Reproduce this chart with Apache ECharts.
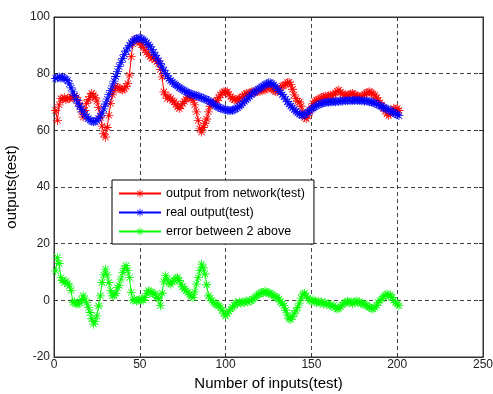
<!DOCTYPE html>
<html>
<head>
<meta charset="utf-8">
<script src="https://cdn.jsdelivr.net/npm/echarts@6/dist/echarts.min.js"></script>
<style>
  html, body { margin: 0; padding: 0; background: #fff; }
  #chart { width: 493px; height: 394px; }
</style>
</head>
<body>
<div id="chart"></div>
<script>
// network output vs real output (test set), x = 1..201
let networkOutput = [
  67, 63.5, 69, 71.2, 71, 71.5, 70.8, 71.3, 71.2, 71.8,
  71.5, 72, 71.6, 70.5, 69, 66.5, 64.7, 67, 69.5, 70.8,
  72, 73, 72.5, 71.5, 70.3, 68, 64.5, 61.5, 58.8, 57.6,
  61, 65.3, 69.5, 72.5, 74, 75.5, 75.2, 74.8, 74.5, 74.2,
  74.6, 75.5, 76.5, 79.5, 86, 90.5, 91.9, 92, 91.5, 91,
  90.2, 89.3, 88.3, 87.5, 86.8, 86, 85.5, 85.6, 85, 84.3,
  83.6, 81.5, 78.9, 73.6, 72.5, 71.2, 71.8, 71.3, 70.5, 70,
  69.2, 68.3, 67.7, 68.6, 69.5, 70.2, 71, 71.5, 71.8, 71.2,
  70.6, 69, 66.5, 63.5, 60.5, 59.4, 61, 62.5, 64, 66.5,
  68.5, 69.3, 69.8, 70, 70.6, 71.5, 72.5, 73.2, 73.6, 73.4,
  73.6, 72.8, 71.8, 71.2, 70.8, 71, 70.6, 71.2, 71.5, 72,
  72.6, 73, 72.8, 73.2, 73.5, 73.6, 73.3, 73.8, 74, 73.7,
  74.2, 74.5, 74.2, 74.8, 75.3, 75, 74.6, 74.2, 73.8, 73.6,
  74.2, 75, 75.6, 75.9, 76.3, 76.8, 77, 76.2, 74.5, 72.5,
  71.2, 70.3, 70, 68.5, 66.5, 64.5, 64.1, 65, 66.5, 68,
  69.5, 70.2, 70.6, 70.8, 71.2, 71.6, 71.8, 72, 71.7, 72.2,
  72.4, 72.2, 72.6, 73.2, 73.8, 74.2, 73.5, 72.8, 72.4, 72.6,
  72.3, 72.5, 72.9, 73, 72.6, 72.3, 72, 71.8, 71.8, 72.3,
  72.8, 73.2, 73.4, 73.6, 73.2, 72.8, 72.4, 71.5, 70.5, 69.8,
  68.8, 67.8, 66.8, 65.8, 65.3, 65.8, 66.8, 67.7, 67.4, 67.7,
  67
];
let realOutput = [
  78.3, 78.6, 78.8, 78.5, 78.7, 78.4, 78.0, 77.6, 76.4, 75.0,
  73.6, 72.2, 70.8, 69.6, 68.5, 67.4, 66.5, 65.6, 64.8, 64.1,
  63.6, 63.2, 63.0, 63.1, 63.5, 64.2, 65.0, 66.1, 67.6, 69.3,
  71.0, 72.6, 74.0, 75.7, 77.4, 79.0, 80.8, 82.5, 84.0, 85.4,
  86.8, 88.0, 89.1, 90.0, 90.9, 91.5, 92.0, 92.3, 92.5, 92.6,
  92.3, 92.0, 91.5, 90.9, 90.2, 89.5, 88.5, 87.6, 86.5, 85.5,
  84.5, 83.5, 82.3, 81.2, 80.1, 79.2, 78.3, 77.6, 77.0, 76.5,
  76.0, 75.6, 75.1, 74.7, 74.3, 74.0, 73.6, 73.3, 73.0, 72.8,
  72.6, 72.4, 72.2, 72.0, 71.8, 71.5, 71.3, 71.0, 70.8, 70.5,
  70.1, 69.7, 69.3, 68.8, 68.4, 68.1, 67.8, 67.6, 67.4, 67.3,
  67.1, 67.0, 67.0, 67.1, 67.3, 67.6, 68.0, 68.5, 69.0, 69.6,
  70.2, 70.8, 71.4, 72.0, 72.6, 73.1, 73.6, 74.0, 74.5, 74.9,
  75.3, 75.7, 76.1, 76.4, 76.7, 76.8, 76.5, 76.0, 75.4, 74.8,
  74.1, 73.4, 72.6, 71.8, 71.0, 70.1, 69.3, 68.6, 67.9, 67.3,
  66.7, 66.2, 65.7, 65.4, 65.3, 65.5, 65.9, 66.4, 67.0, 67.5,
  67.9, 68.3, 68.7, 69.0, 69.3, 69.5, 69.7, 69.8, 69.9, 70.0,
  70.1, 70.0, 70.2, 70.1, 70.3, 70.2, 70.4, 70.3, 70.5, 70.4,
  70.5, 70.6, 70.4, 70.6, 70.5, 70.7, 70.5, 70.6, 70.4, 70.5,
  70.3, 70.4, 70.2, 70.1, 70.0, 69.8, 69.6, 69.3, 69.0, 68.7,
  68.4, 68.1, 67.8, 67.5, 67.2, 66.9, 66.5, 66.2, 65.9, 65.5,
  65.2
];
let errorValues = [
  10.4, 15.1, 13, 8, 7, 6.3, 6.8, 5.8, 5.1, 3.5,
  -0.8, -0.5, -1.2, -1.3, -1, 0.3, 1.6, 0.5, -0.8, -2.5,
  -4.3, -6.5, -8.4, -7.5, -5.5, -2, 1.6, 6.3, 9, 11,
  9, 6.3, 3.5, 1.6, 1.8, 2.5, 4.5, 5.2, 7.5, 9.8,
  11.2, 12.2, 10.5, 8, 2.8, 0, 0.3, -0.2, 0, 0.4,
  0.2, 0, 1, 2.4, 3.4, 3, 2.8, 2.2, 2.2, 1,
  0.6, -1.9, 2.5, 6.5, 8.7, 7.5, 6, 5.7, 6.5, 7,
  7.8, 8.1, 7, 5.7, 4.8, 4, 3.4, 2.8, 2, 1.5,
  1, 3, 5.7, 8, 10.5, 12.8, 11.5, 9.3, 5.5, 1.6,
  0.8, 0, -0.8, -1.2, -1.5, -2, -2.5, -3.5, -4.8, -5.5,
  -4.8, -3.8, -3.1, -2.5, -1.8, -0.8, -1.2, -0.6, -1, -0.5,
  -0.8, -0.2, -0.6, 0, -0.2, 0.4, 0.9, 1.5, 2, 2.4,
  2.8, 2.8, 3.2, 2.8, 2.5, 2.6, 2, 1.6, 1.2, 1,
  0.4, -0.5, -1.2, -1.9, -3.5, -5.2, -6.5, -6.7, -5.8, -4.5,
  -3.7, -2.5, -1, 0.8, 2.2, 2.5, 1.5, 0.8, 0, -0.3,
  0.2, -0.5, -0.8, -0.3, -1, -0.6, -1.3, -0.8, -1.5, -1.2,
  -1.8, -2.2, -1.8, -2.6, -3.1, -2.8, -2.2, -1.6, -1, -0.8,
  -0.3, -0.8, -0.5, -1.2, -0.6, -0.2, -0.8, -0.5, -1, -1.5,
  -1.2, -1.8, -2.2, -2.5, -2.8, -3.1, -2.5, -1.8, -0.8, 0,
  0.5, 1.2, 1.8, 2.2, 1.5, 2, 1, 0, -0.8, -1.3,
  -1.9
];
let seriesNames = ['output from network(test)', 'real output(test)', 'error between 2 above'];
let seriesColors = ['#ff0000', '#0000ff', '#00ff00'];

// matlab '*' marker, plus and cross of thin bars
let star = 'path://M-0.9,-10L0.9,-10L0.9,10L-0.9,10Z' +
  'M-10,-0.9L10,-0.9L10,0.9L-10,0.9Z' +
  'M-6.36,-7.64L7.64,6.36L6.36,7.64L-7.64,-6.36Z' +
  'M-7.64,6.36L6.36,-7.64L7.64,-6.36L-6.36,7.64Z';

function toPairs(values) {
  let out = [];
  for (let i = 0; i < values.length; i++) {
    out.push([i + 1, values[i]]);
  }
  return out;
}

let font = 'Liberation Sans, Arial, sans-serif';
let gridLine = { show: true, lineStyle: { color: '#444', type: [4, 3], width: 1 } };
let tick = { show: true, inside: true, length: 4, lineStyle: { color: '#333' } };
let edge = { show: true, onZero: false, lineStyle: { color: '#333' } };

let chart = echarts.init(document.getElementById('chart'));
let allValues = [networkOutput, realOutput, errorValues];
let series = allValues.map(function (vals, k) {
  return {
    name: seriesNames[k],
    type: 'line',
    data: toPairs(vals),
    symbol: star,
    symbolSize: 9,
    showAllSymbol: true,
    color: seriesColors[k],
    lineStyle: { width: 1, color: seriesColors[k] },
    itemStyle: { color: seriesColors[k] },
    emphasis: { disabled: true }
  };
});

chart.setOption({
  animation: false,
  backgroundColor: '#fff',
  textStyle: { fontFamily: font },
  grid: {
    left: 54, right: 10, top: 17, bottom: 37,
    outerBoundsMode: 'none',
    containLabel: false,
    show: true, borderColor: '#333', borderWidth: 1, backgroundColor: 'transparent'
  },
  legend: {
    orient: 'vertical',
    left: 112,
    top: 180,
    data: seriesNames,
    backgroundColor: '#fff',
    borderColor: '#000',
    borderWidth: 1,
    borderRadius: 0,
    padding: [7, 9, 6, 6],
    itemWidth: 42,
    itemHeight: 10,
    itemGap: 6,
    textStyle: { fontSize: 12.5, color: '#000', fontFamily: font }
  },
  xAxis: [{
    type: 'value', min: 0, max: 250, interval: 50,
    name: 'Number of inputs(test)', nameLocation: 'middle', nameGap: 18,
    nameTextStyle: { fontSize: 15, color: '#000' },
    axisLine: edge,
    axisTick: tick,
    axisLabel: { fontSize: 12, color: '#222', margin: 2 },
    splitLine: gridLine
  }, {
    type: 'value', position: 'top', min: 0, max: 250, interval: 50,
    axisLine: edge,
    axisTick: tick,
    axisLabel: { show: false },
    splitLine: { show: false }
  }],
  yAxis: [{
    type: 'value', min: -20, max: 100, interval: 20,
    name: 'outputs(test)', nameLocation: 'middle', nameGap: 30,
    nameTextStyle: { fontSize: 15, color: '#000' },
    axisLine: edge,
    axisTick: tick,
    axisLabel: { fontSize: 12, color: '#222', margin: 4 },
    splitLine: gridLine
  }, {
    type: 'value', position: 'right', min: -20, max: 100, interval: 20,
    axisLine: edge,
    axisTick: tick,
    axisLabel: { show: false },
    splitLine: { show: false }
  }],
  series: series
});
</script>
</body>
</html>
